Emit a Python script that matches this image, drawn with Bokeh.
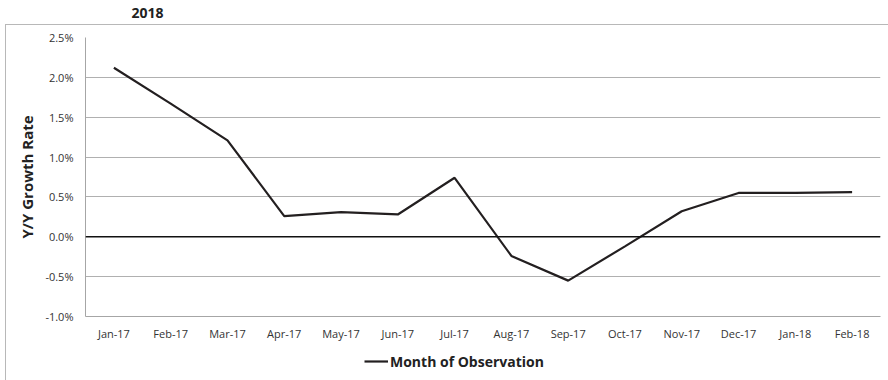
from bokeh.plotting import figure
from bokeh.layouts import column
from bokeh.models import (ColumnDataSource, FactorRange, Range1d, Span, Legend, LegendItem,
                          FixedTicker, CustomJSTickFormatter, InlineStyleSheet, Label)
from bokeh.embed import file_html
from bokeh.resources import INLINE

months = ["Jan-17", "Feb-17", "Mar-17", "Apr-17", "May-17", "Jun-17", "Jul-17",
          "Aug-17", "Sep-17", "Oct-17", "Nov-17", "Dec-17", "Jan-18", "Feb-18"]
growth = [2.12, 1.67, 1.21, 0.26, 0.31, 0.28, 0.74,
          -0.24, -0.55, -0.12, 0.32, 0.55, 0.55, 0.56]
y_ticks = [-1.0, -0.5, 0.0, 0.5, 1.0, 1.5, 2.0, 2.5]
title_text = "2018"
y_title = "Y/Y Growth Rate"
series_name = "Month of Observation"

FONT = "Open Sans"
LINE_COLOR = "#231f20"
W = 888
BL, BR = 85, 8          # left/right borders so every strip shares the same frame
FRAME_W = W - BL - BR


def strip(height):
    f = figure(width=W, height=height, output_backend="svg", toolbar_location=None,
               x_range=Range1d(0, FRAME_W), y_range=Range1d(0, height),
               min_border_left=BL, min_border_right=BR, min_border_top=0, min_border_bottom=0,
               x_axis_location=None, y_axis_location=None)
    f.outline_line_color = None
    f.grid.grid_line_color = None
    f.border_fill_color = None
    f.background_fill_color = None
    return f


# title strip
top = strip(24)
top.add_layout(Label(x=62, y=12, text=title_text, text_font=FONT, text_font_size="14px",
                     text_font_style="bold", text_align="center", text_baseline="middle",
                     text_color="#222222"))

# main chart
p = figure(width=W, height=320, output_backend="svg", toolbar_location=None,
           x_range=FactorRange(factors=months, range_padding=0),
           y_range=Range1d(-1.0, 2.5),
           min_border_left=BL, min_border_right=BR, min_border_top=13, min_border_bottom=28)
p.outline_line_color = None
p.background_fill_color = "white"
p.border_fill_color = None

src = ColumnDataSource(dict(x=months, y=growth))
r = p.line("x", "y", source=src, line_color=LINE_COLOR, line_width=2.2)

p.yaxis.ticker = FixedTicker(ticks=y_ticks)
p.yaxis.formatter = CustomJSTickFormatter(code="return tick.toFixed(1) + '%';")
p.yaxis.major_tick_line_color = None
p.yaxis.minor_tick_line_color = None
p.yaxis.axis_line_color = "#a6a6a6"
p.yaxis.major_label_standoff = 6
p.yaxis.major_label_text_font = FONT
p.yaxis.major_label_text_font_size = "11px"
p.yaxis.major_label_text_color = "#333333"
p.yaxis.axis_label = y_title
p.yaxis.axis_label_text_font = FONT
p.yaxis.axis_label_text_font_size = "15px"
p.yaxis.axis_label_text_font_style = "bold"
p.yaxis.axis_label_text_color = "#222222"
p.yaxis.axis_label_standoff = 5

p.xaxis.major_tick_line_color = None
p.xaxis.minor_tick_line_color = None
p.xaxis.axis_line_color = "#a6a6a6"
p.xaxis.major_label_standoff = 3
p.xaxis.major_label_text_font = FONT
p.xaxis.major_label_text_font_size = "11px"
p.xaxis.major_label_text_color = "#333333"

p.xgrid.grid_line_color = None
p.ygrid.grid_line_color = "#b0b0b0"
p.ygrid.grid_line_width = 1

p.add_layout(Span(location=0, dimension="width", line_color="#111111", line_width=1.5))

# legend strip below the chart
lg = strip(36)
lr = lg.line(x=[float("nan"), float("nan")], y=[float("nan"), float("nan")],
             line_color=LINE_COLOR, line_width=2.2)
legend = Legend(items=[LegendItem(label=series_name, renderers=[lr])],
                orientation="horizontal", location=(279, 9),
                label_text_font=FONT, label_text_font_size="14px",
                label_text_font_style="bold", label_text_color="#222222",
                glyph_width=24, label_standoff=2, border_line_color=None,
                background_fill_alpha=0, padding=4, margin=0)
lg.add_layout(legend, "center")

css = InlineStyleSheet(css="""
:host { position: relative; background: white; }
:host::after {
  content: ""; position: absolute; left: 5px; top: 24px; right: -30px; bottom: -30px;
  border-left: 1px solid #b8b8b8; border-top: 1px solid #b8b8b8;
  pointer-events: none; z-index: 5;
}
""")
page = column(top, p, lg, spacing=0, stylesheets=[css])

open("out.html", "w").write(file_html(page, INLINE))
